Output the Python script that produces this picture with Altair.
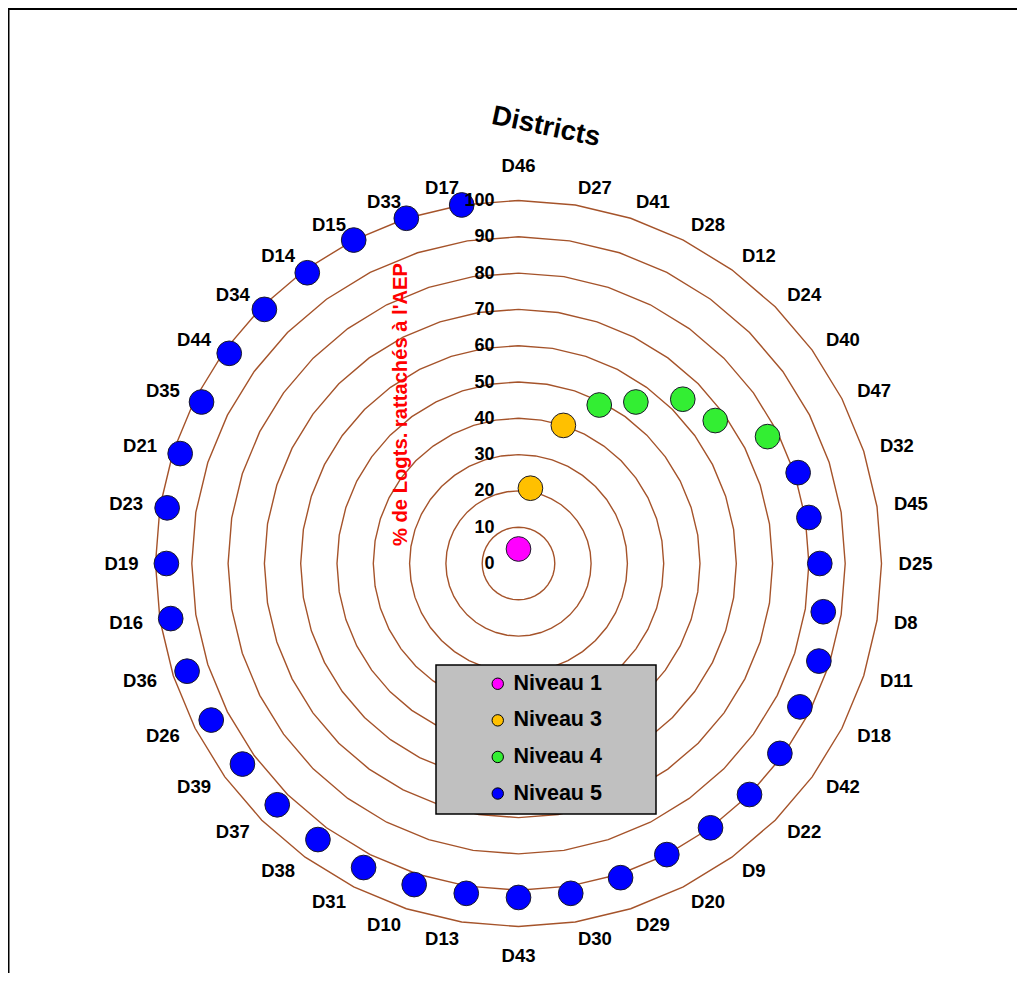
import altair as alt
import pandas as pd

# ---------------- data ----------------
districts = ["D46", "D27", "D41", "D28", "D12", "D24", "D40", "D47", "D32", "D45",
             "D25", "D8", "D11", "D18", "D42", "D22", "D9", "D20", "D29", "D30",
             "D43", "D13", "D10", "D31", "D38", "D37", "D39", "D26", "D36", "D16",
             "D19", "D23", "D21", "D35", "D44", "D34", "D14", "D15", "D33", "D17"]
pct = [4, 21, 40, 49, 55, 64, 67, 77, 81, 81,
       83, 85, 87, 87, 89, 90, 90, 90, 91, 92,
       92, 92, 93, 94, 94, 94, 94, 95, 96, 97,
       97, 98, 98, 98, 98.5, 99, 99, 100, 100, 100]
niveau = ["Niveau 1", "Niveau 3", "Niveau 3", "Niveau 4", "Niveau 4", "Niveau 4", "Niveau 4", "Niveau 4",
          "Niveau 5", "Niveau 5", "Niveau 5", "Niveau 5", "Niveau 5", "Niveau 5", "Niveau 5", "Niveau 5",
          "Niveau 5", "Niveau 5", "Niveau 5", "Niveau 5", "Niveau 5", "Niveau 5", "Niveau 5", "Niveau 5",
          "Niveau 5", "Niveau 5", "Niveau 5", "Niveau 5", "Niveau 5", "Niveau 5", "Niveau 5", "Niveau 5",
          "Niveau 5", "Niveau 5", "Niveau 5", "Niveau 5", "Niveau 5", "Niveau 5", "Niveau 5", "Niveau 5"]
levels = ["Niveau 1", "Niveau 3", "Niveau 4", "Niveau 5"]
level_colors = ["#FF00FF", "#FFC000", "#33EE33", "#0000FF"]
rings = [10, 20, 30, 40, 50, 60, 70, 80, 90, 100]
tick_values = [0, 10, 20, 30, 40, 50, 60, 70, 80, 90, 100]
chart_title = "Districts"
axis_title = "% de Logts. rattachés à l'AEP"

# ---------------- layout ----------------
N = len(districts)
PAD_L, PAD_T = 2, 2
OX, OY = 8 + PAD_L, 8 + PAD_T          # page position of plot origin
W, H = 1007, 963
CX, CY = 518.5 - OX, 563.5 - OY        # centre in plot pixels
PXU = 3.63                              # pixels per % unit
R_LABEL = 104.7                         # radius of side labels anchor

xscale = alt.Scale(domain=[-CX / PXU, (W - CX) / PXU], nice=False, zero=False)
yscale = alt.Scale(domain=[-(H - CY) / PXU, CY / PXU], nice=False, zero=False)

yaxis = alt.Axis(values=tick_values, domain=False, ticks=False, grid=False,
                 labelFontSize=18, labelFontWeight="bold", labelFont="Liberation Sans",
                 labelColor="black", labelPadding=0, labelAlign="right", labelBaseline="middle",
                 offset=-(494 - OX), title=axis_title, titleColor="#FF0000",
                 titleFont="Liberation Sans", titleFontSize=20.2,
                 titleFontWeight="bold", titleAngle=270, titleX=-94, titleY=404 - OY,
                 titleBaseline="middle", titleAlign="center", zindex=1)

X = alt.X("x:Q", scale=xscale, axis=None)
Y = alt.Y("y:Q", scale=yscale, axis=yaxis)

theta = f"2*PI*datum.idx/{N}"

# rings (polygons through category angles)
ring_rows = [{"r": r, "idx": k} for r in rings for k in range(N + 1)]
ring_layer = (
    alt.Chart(pd.DataFrame(ring_rows))
    .transform_calculate(th=theta)
    .transform_calculate(x="datum.r*sin(datum.th)", y="datum.r*cos(datum.th)")
    .mark_line(color="#A5532A", strokeWidth=1.4)
    .encode(x=X, y=Y, detail="r:N", order="idx:Q")
)

lab_df = pd.DataFrame({"district": districts, "idx": list(range(N))})


def label_layer(filt, align, radius_expr):
    return (
        alt.Chart(lab_df)
        .transform_filter(filt)
        .transform_calculate(th=theta, rad=radius_expr)
        .transform_calculate(x="datum.rad*sin(datum.th)", y="datum.rad*cos(datum.th)")
        .mark_text(align=align, baseline="middle", fontSize=18.5, fontWeight="bold",
                   font="Liberation Sans", color="black")
        .encode(x=X, y=Y, text="district:N")
    )


lab_right = label_layer(f"datum.idx > 0 && datum.idx < {N // 2}", "left", f"{R_LABEL}")
lab_left = label_layer(f"datum.idx > {N // 2}", "right", f"{R_LABEL}")
lab_tb = label_layer(f"datum.idx == 0 || datum.idx == {N // 2}", "center",
                     "datum.idx == 0 ? 109.6 : 108.0")

# legend box (background panel of the legend)
legend_box = (
    alt.Chart(pd.DataFrame({"a": [0]}))
    .mark_rect(fill="#C0C0C0", stroke="black", strokeWidth=1.5)
    .encode(x=alt.value(436 - OX), x2=alt.value(656 - OX),
            y=alt.value(665 - OY), y2=alt.value(814 - OY))
)

pts_df = pd.DataFrame({"district": districts, "pct": pct, "niveau": niveau, "idx": list(range(N))})
points = (
    alt.Chart(pts_df)
    .transform_calculate(th=theta)
    .transform_calculate(x="datum.pct*sin(datum.th)", y="datum.pct*cos(datum.th)")
    .mark_circle(size=610, opacity=1, stroke="#1a1a2a", strokeWidth=1)
    .encode(
        x=X, y=Y,
        color=alt.Color("niveau:N", scale=alt.Scale(domain=levels, range=level_colors),
                        legend=alt.Legend(orient="none", legendX=436 - OX,
                                          legendY=665 - OY, title=None, padding=8,
                                          symbolType="circle", symbolSize=130, symbolOffset=43,
                                          labelOffset=5, labelFontSize=21.5, labelFontWeight="bold",
                                          labelFont="Liberation Sans", labelColor="black",
                                          rowPadding=13.6,
                                          symbolStrokeColor="black", symbolStrokeWidth=1)),
        tooltip=["district:N", "pct:Q", "niveau:N"],
    )
)

title_layer = (
    alt.Chart(pd.DataFrame({"t": [chart_title]}))
    .mark_text(angle=12, fontSize=27.5, fontWeight="bold", font="Liberation Sans",
               align="center", baseline="middle", color="black")
    .encode(x=alt.value(546 - OX), y=alt.value(127 - OY), text="t:N")
)

frame_df = pd.DataFrame({"a": [0]})
frame_top = alt.Chart(frame_df).mark_rule(color="black", strokeWidth=2).encode(
    x=alt.value(-PAD_L), x2=alt.value(W), y=alt.value(-PAD_T + 1))
frame_left = alt.Chart(frame_df).mark_rule(color="black", strokeWidth=2).encode(
    x=alt.value(-PAD_L + 0.5), y=alt.value(-PAD_T), y2=alt.value(H))

chart = (
    alt.layer(ring_layer, lab_right, lab_left, lab_tb, legend_box, points, title_layer,
              frame_top, frame_left)
    .properties(width=W, height=H, autosize=alt.AutoSizeParams(type="none"),
                padding={"left": PAD_L, "top": PAD_T, "right": 0, "bottom": 0},
                background="white")
    .configure_view(strokeOpacity=0)
)

chart.save("out.html", embed_options={"renderer": "svg", "actions": False})
